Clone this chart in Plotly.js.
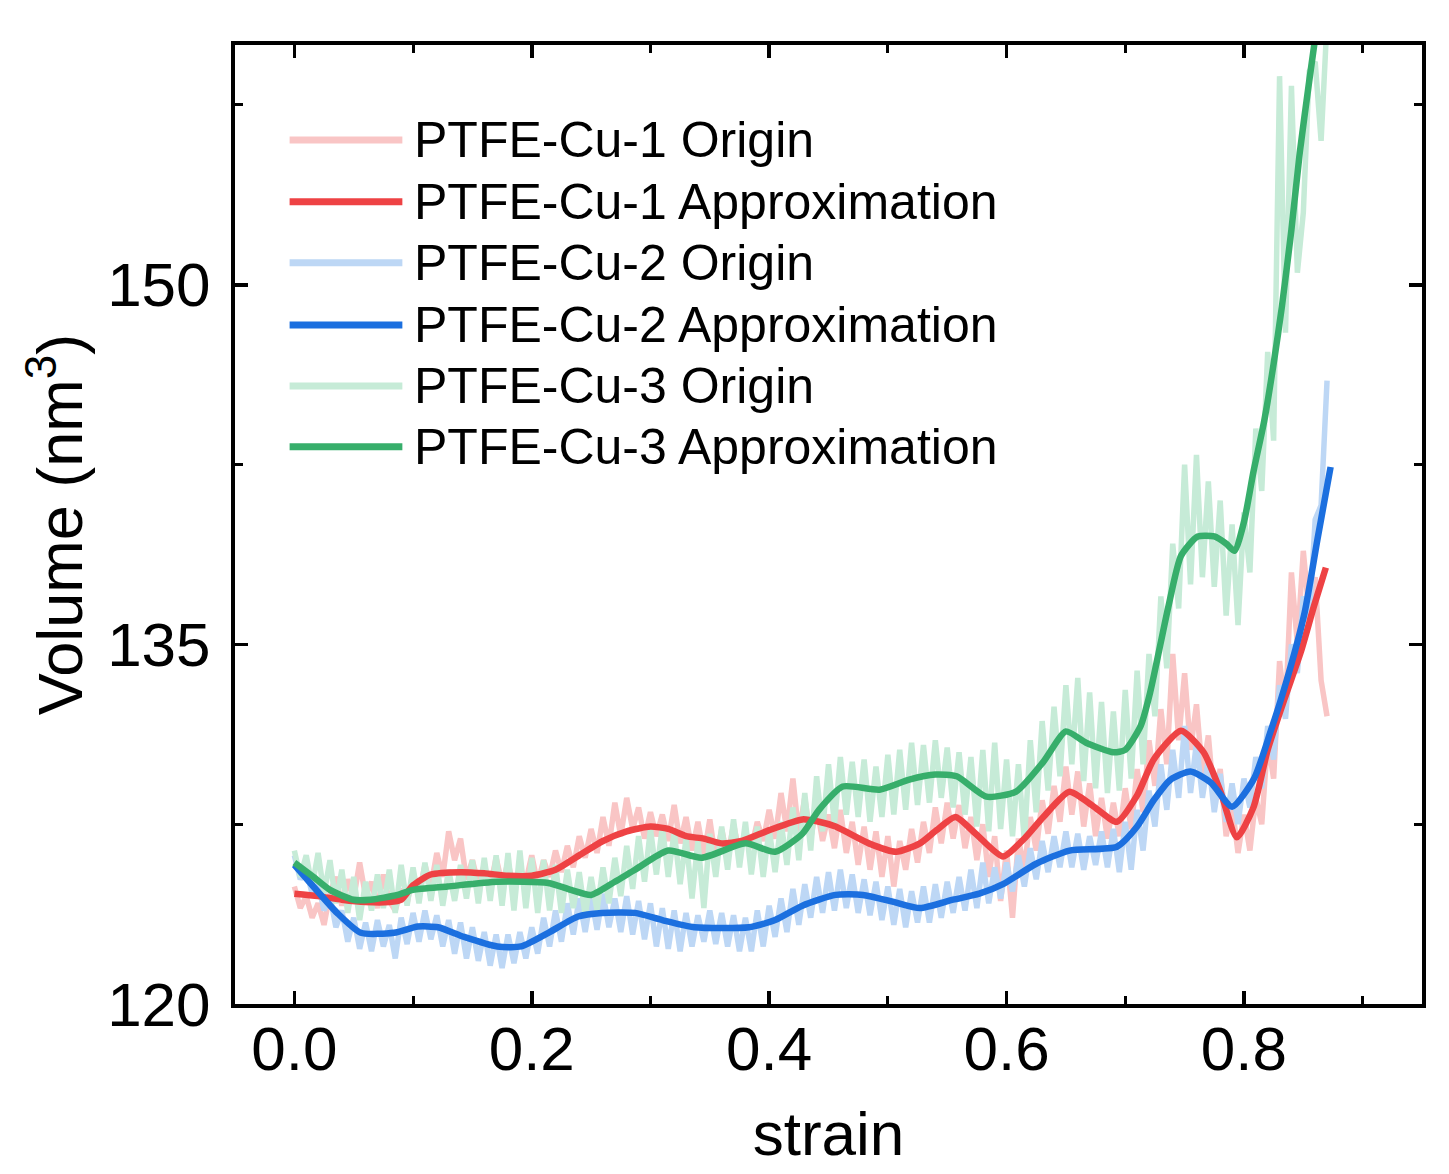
<!DOCTYPE html>
<html>
<head>
<meta charset="utf-8">
<script src="https://cdn.plot.ly/plotly-3.0.1.min.js"></script>
<style>
html,body{margin:0;padding:0;background:#fff;}
#chart{width:1449px;height:1174px;}
</style>
</head>
<body>
<div id="chart"></div>
<script>
// ---------- DATA ----------
const seriesNames = [
  "PTFE-Cu-1 Origin", "PTFE-Cu-1 Approximation",
  "PTFE-Cu-2 Origin", "PTFE-Cu-2 Approximation",
  "PTFE-Cu-3 Origin", "PTFE-Cu-3 Approximation"
];

const strainOrigin = [
  0.000,0.005,0.010,0.015,0.020,0.025,0.030,0.035,0.040,0.045,
  0.050,0.055,0.060,0.065,0.070,0.075,0.080,0.085,0.090,0.095,
  0.100,0.105,0.110,0.115,0.120,0.125,0.130,0.135,0.140,0.145,
  0.150,0.155,0.160,0.165,0.170,0.175,0.180,0.185,0.190,0.195,
  0.200,0.205,0.210,0.215,0.220,0.225,0.230,0.235,0.240,0.245,
  0.250,0.255,0.260,0.265,0.270,0.275,0.280,0.285,0.290,0.295,
  0.300,0.305,0.310,0.315,0.320,0.325,0.330,0.335,0.340,0.345,
  0.350,0.355,0.360,0.365,0.370,0.375,0.380,0.385,0.390,0.395,
  0.400,0.405,0.410,0.415,0.420,0.425,0.430,0.435,0.440,0.445,
  0.450,0.455,0.460,0.465,0.470,0.475,0.480,0.485,0.490,0.495,
  0.500,0.505,0.510,0.515,0.520,0.525,0.530,0.535,0.540,0.545,
  0.550,0.555,0.560,0.565,0.570,0.575,0.580,0.585,0.590,0.595,
  0.600,0.605,0.610,0.615,0.620,0.625,0.630,0.635,0.640,0.645,
  0.650,0.655,0.660,0.665,0.670,0.675,0.680,0.685,0.690,0.695,
  0.700,0.705,0.710,0.715,0.720,0.725,0.730,0.735,0.740,0.745,
  0.750,0.755,0.760,0.765,0.770,0.775,0.780,0.785,0.790,0.795,
  0.800,0.805,0.810,0.815,0.820,0.825,0.830,0.835,0.840,0.845,
  0.850,0.855,0.860,0.865,0.870
];

const cu1Origin = [
  124.9,124.0,124.5,123.6,124.2,123.3,124.6,125.3,124.1,125.2,
  124.4,125.9,124.5,125.1,124.0,125.4,124.3,123.9,124.8,124.2,
  125.5,124.6,125.8,124.9,126.3,125.3,127.2,126.0,126.9,125.2,
  126.0,125.0,125.8,124.9,126.1,125.0,125.9,124.8,125.7,125.1,
  126.2,125.0,126.0,125.3,126.4,125.5,126.6,125.7,127.0,126.1,
  127.3,126.3,127.8,126.6,128.4,127.0,128.6,127.3,128.2,126.9,
  128.0,127.0,127.9,126.8,128.3,126.7,127.8,126.4,127.6,126.2,
  127.7,126.0,127.3,126.1,127.5,126.3,127.2,126.5,127.6,126.8,
  128.1,126.9,128.8,127.2,129.4,127.1,128.6,126.9,128.3,126.8,
  127.9,126.5,128.1,126.3,127.6,125.8,127.4,125.6,127.2,125.3,
  127.0,124.9,126.8,125.6,127.3,125.9,127.6,126.3,128.2,126.7,
  128.4,126.9,128.3,126.5,127.8,126.0,127.5,125.3,127.0,124.3,
  126.4,123.6,126.9,125.6,127.8,126.4,128.5,127.1,129.1,127.6,
  129.9,127.9,129.7,127.4,129.2,127.0,128.6,126.9,128.4,127.0,
  129.0,127.3,129.8,128.0,131.0,129.1,132.3,130.0,134.6,131.0,
  133.8,130.6,132.5,129.6,131.2,128.4,129.8,127.0,128.3,126.3,
  127.9,126.4,128.6,127.5,131.0,129.4,134.3,132.2,138.0,135.0,
  138.9,136.2,137.8,133.5,132.0
];

const cu2Origin = [
  126.2,125.2,125.6,124.6,125.0,123.9,124.5,123.2,123.9,122.6,
  123.6,122.3,123.4,122.2,123.5,122.4,123.3,121.9,123.6,122.5,
  123.8,122.6,123.9,122.7,123.7,122.4,123.5,122.1,123.4,121.9,
  123.2,121.8,123.0,121.6,122.9,121.5,122.9,121.7,123.0,121.9,
  123.2,122.1,123.6,122.4,123.9,122.6,124.2,122.9,124.4,123.0,
  124.5,123.1,124.6,123.2,124.4,123.0,124.5,122.9,124.3,122.7,
  124.2,122.4,124.0,122.3,123.9,122.2,123.8,122.4,123.7,122.6,
  123.9,122.5,123.8,122.4,123.7,122.2,123.6,122.2,123.9,122.4,
  124.1,122.8,124.4,123.0,124.8,123.3,125.0,123.6,125.3,123.8,
  125.5,123.9,125.6,124.0,125.4,123.8,125.2,123.7,125.1,123.5,
  124.9,123.3,124.8,123.2,124.7,123.4,124.9,123.4,125.0,123.6,
  125.1,123.8,125.3,123.9,125.6,124.0,125.9,124.2,125.7,124.4,
  125.9,124.7,126.2,124.9,126.5,125.2,126.8,125.5,127.0,125.7,
  127.2,125.7,127.1,125.6,127.0,125.8,127.2,125.7,127.3,125.5,
  127.6,125.6,128.1,126.4,128.9,127.4,130.0,128.1,130.6,128.6,
  131.6,128.8,130.9,128.6,130.2,128.0,129.6,127.6,129.2,127.5,
  129.4,128.2,130.3,129.0,131.6,130.2,133.3,131.9,135.0,133.8,
  137.0,136.0,140.2,140.8,146.0
];

const cu3Origin = [
  126.4,125.3,126.2,124.9,126.3,124.6,126.0,124.2,125.6,123.8,
  125.3,123.5,125.1,123.9,125.4,124.0,125.6,123.8,125.8,124.1,
  125.7,124.2,125.9,124.3,125.8,124.1,125.6,124.3,125.8,124.4,
  126.0,124.2,126.1,124.3,126.2,124.1,126.3,123.9,126.4,124.0,
  126.1,123.8,126.0,123.9,125.8,123.8,125.6,124.0,125.5,123.7,
  125.3,123.9,125.7,124.2,126.1,124.5,126.6,124.8,127.0,125.1,
  127.3,125.4,127.4,125.3,127.2,125.0,126.9,124.4,126.8,124.0,
  127.1,125.3,127.4,125.6,127.7,125.7,127.6,125.4,127.4,125.3,
  127.3,125.5,127.6,125.8,128.2,126.0,128.8,126.4,129.5,127.2,
  130.0,127.5,130.3,127.9,130.1,127.8,130.2,127.6,129.9,127.8,
  130.4,127.9,130.6,128.1,130.9,128.3,130.8,128.4,131.0,128.6,
  130.7,128.2,130.5,127.9,130.3,127.4,130.6,127.2,130.9,127.3,
  130.2,127.0,130.0,126.8,131.0,128.0,131.8,128.9,132.4,129.5,
  133.3,130.0,133.6,129.3,133.0,129.0,132.6,128.8,132.2,128.9,
  133.1,129.4,133.9,130.0,134.6,132.0,137.0,134.0,139.2,136.5,
  142.5,137.5,142.9,137.8,141.8,137.4,141.0,136.2,140.0,135.8,
  140.5,138.0,144.0,141.4,147.2,143.5,158.7,148.0,158.3,150.5,
  153.0,158.9,159.3,156.0,161.0
];

const cu1ApproxX = [0.000,0.020,0.040,0.060,0.080,0.090,0.100,0.115,0.140,0.160,0.180,0.200,0.220,0.240,0.260,0.280,0.300,0.315,0.330,0.345,0.360,0.377,0.400,0.428,0.442,0.456,0.484,0.507,0.527,0.541,0.557,0.574,0.597,0.614,0.631,0.653,0.673,0.693,0.710,0.724,0.747,0.766,0.780,0.794,0.808,0.820,0.834,0.848,0.859,0.869];
const cu1ApproxY = [124.6,124.5,124.35,124.25,124.25,124.35,124.95,125.4,125.5,125.45,125.35,125.35,125.6,126.2,126.8,127.2,127.4,127.3,127.0,126.9,126.7,126.8,127.25,127.7,127.6,127.4,126.7,126.35,126.7,127.25,127.8,127.1,126.15,126.85,127.8,128.85,128.25,127.6,128.7,130.2,131.4,130.5,128.9,126.95,128.2,130.6,132.7,134.7,136.6,138.2];

const cu2ApproxX = [0.000,0.016,0.036,0.056,0.084,0.104,0.121,0.143,0.171,0.191,0.214,0.239,0.259,0.287,0.310,0.337,0.383,0.405,0.428,0.456,0.479,0.504,0.527,0.555,0.577,0.597,0.625,0.653,0.693,0.710,0.724,0.738,0.755,0.772,0.790,0.8085,0.822,0.836,0.851,0.862,0.873];
const cu2ApproxY = [125.8,124.9,123.8,122.97,122.97,123.23,123.2,122.8,122.4,122.4,122.97,123.65,123.8,123.8,123.5,123.2,123.2,123.5,124.1,124.55,124.55,124.27,124.0,124.35,124.6,125.0,125.85,126.4,126.56,127.4,128.5,129.35,129.7,129.24,128.23,129.4,131.3,133.5,136.3,139.4,142.4];

const cu3ApproxX = [0.000,0.016,0.030,0.050,0.064,0.087,0.100,0.129,0.171,0.214,0.233,0.250,0.270,0.287,0.315,0.343,0.380,0.405,0.428,0.442,0.462,0.493,0.518,0.540,0.558,0.583,0.608,0.631,0.650,0.667,0.690,0.700,0.713,0.721,0.736,0.747,0.761,0.775,0.785,0.792,0.800,0.808,0.817,0.825,0.832,0.840,0.847,0.855,0.862];
const cu3ApproxY = [125.9,125.3,124.76,124.35,124.35,124.55,124.76,124.9,125.1,125.05,124.76,124.55,125.1,125.6,126.4,126.1,126.7,126.35,127.1,128.1,129.07,128.94,129.36,129.57,129.5,128.65,128.86,130.1,131.37,130.9,130.5,130.6,131.6,133.0,136.5,138.7,139.5,139.5,139.2,138.9,140.1,142.2,144.3,146.7,149.1,152.3,155.5,158.5,161.0];

const xTickVals = [0.0, 0.2, 0.4, 0.6, 0.8];
const xTickText = ["0.0", "0.2", "0.4", "0.6", "0.8"];
const yTickVals = [120, 135, 150];
const yTickText = ["120", "135", "150"];

// ---------- STYLE ----------
const colors = ["#F9C5C5", "#EE4244", "#BDD7F5", "#1B6FDF", "#C6EBD7", "#37AE6B"];
const FONT = "Liberation Sans, Arial, Helvetica, sans-serif";

const originTraces = [
  {x: strainOrigin, y: cu1Origin, idx: 0},
  {x: strainOrigin, y: cu2Origin, idx: 2},
  {x: strainOrigin, y: cu3Origin, idx: 4}
].map(s => ({
  type: "scatter", mode: "lines", x: s.x, y: s.y, name: seriesNames[s.idx],
  line: {color: colors[s.idx], width: 5.5}, showlegend: false, hoverinfo: "skip"
}));

const approxTraces = [
  {x: cu1ApproxX, y: cu1ApproxY, idx: 1},
  {x: cu2ApproxX, y: cu2ApproxY, idx: 3},
  {x: cu3ApproxX, y: cu3ApproxY, idx: 5}
].map(s => ({
  type: "scatter", mode: "lines", x: s.x, y: s.y, name: seriesNames[s.idx],
  line: {color: colors[s.idx], width: 6.5, shape: "spline", smoothing: 0.6},
  showlegend: false
}));

// custom legend (long line samples as in the reference)
const legendRowsY = [0.901, 0.8365, 0.773, 0.708, 0.6445, 0.581];
const shapes = [];
const annotations = [];
seriesNames.forEach((nm, i) => {
  shapes.push({type: "line", xref: "paper", yref: "paper",
    x0: 0.046, x1: 0.141, y0: legendRowsY[i], y1: legendRowsY[i],
    line: {color: colors[i], width: 7}});
  annotations.push({xref: "paper", yref: "paper", x: 0.149, y: legendRowsY[i],
    xanchor: "left", yanchor: "middle", showarrow: false, text: nm,
    font: {family: FONT, size: 50, color: "#000"}});
});

const axisCommon = {
  showline: true, linecolor: "#000", linewidth: 4, mirror: "allticks",
  ticks: "inside", ticklen: 13, tickwidth: 3.5, tickcolor: "#000",
  showgrid: false, zeroline: false,
  tickfont: {family: FONT, size: 62, color: "#000"}
};

const layout = {
  width: 1449, height: 1174,
  margin: {l: 235, r: 27, t: 45, b: 170},
  paper_bgcolor: "#fff", plot_bgcolor: "#fff",
  showlegend: false,
  xaxis: Object.assign({}, axisCommon, {
    range: [-0.05, 0.95], tickmode: "array", tickvals: xTickVals, ticktext: xTickText,
    ticklabelstandoff: -12,
    minor: {dtick: 0.1, tick0: 0.1, ticks: "inside", ticklen: 8, tickwidth: 3, tickcolor: "#000", showgrid: false},
    title: {text: "strain", font: {family: FONT, size: 62, color: "#000"}, standoff: 30}
  }),
  yaxis: Object.assign({}, axisCommon, {
    range: [120, 160], tickmode: "array", tickvals: yTickVals, ticktext: yTickText,
    ticklabelstandoff: 8,
    minor: {dtick: 7.5, tick0: 120, ticks: "inside", ticklen: 8, tickwidth: 3, tickcolor: "#000", showgrid: false},
    title: {text: "Volume (nm<sup>3</sup>)", font: {family: FONT, size: 63, color: "#000"}, standoff: 5}
  }),
  shapes: shapes,
  annotations: annotations
};

Plotly.newPlot("chart", originTraces.concat(approxTraces), layout, {displayModeBar: false, staticPlot: true});
</script>
</body>
</html>
